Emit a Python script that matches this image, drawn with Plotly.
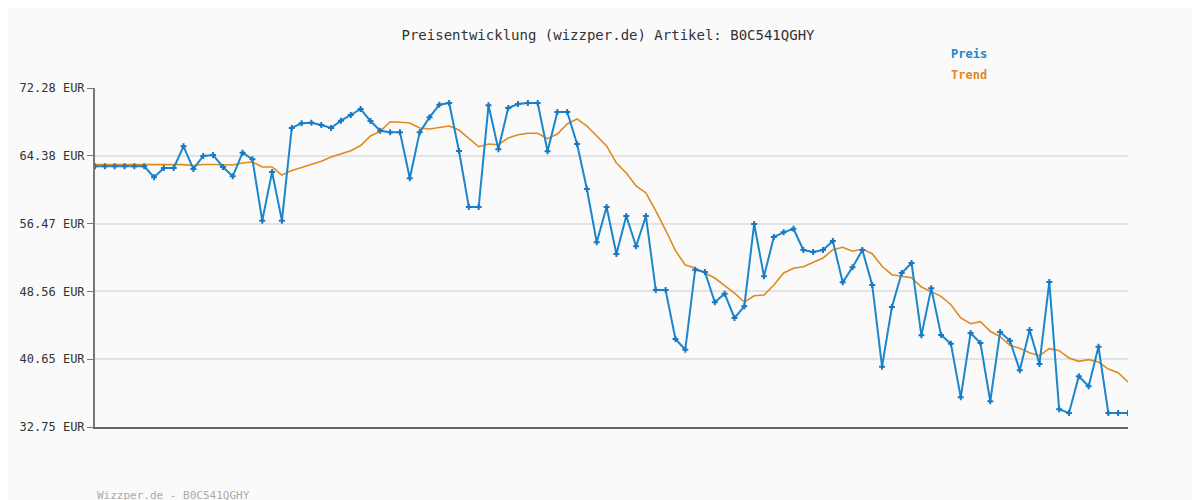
import plotly.graph_objects as go

preis = [63.15,63.15,63.15,63.15,63.15,63.15,61.87,62.95,62.95,65.48,
62.83,64.35,64.47,63.07,61.98,64.74,63.97,56.81,62.48,56.81,
67.62,68.16,68.23,67.97,67.62,68.47,69.13,69.83,68.43,67.30,
67.11,67.11,61.75,67.11,68.86,70.33,70.53,64.93,58.40,58.40,
70.26,65.13,69.95,70.41,70.53,70.53,64.90,69.48,69.48,65.75,
60.50,54.29,58.40,52.92,57.35,53.82,57.35,48.72,48.72,43.01,
41.76,51.09,50.82,47.29,48.29,45.46,46.82,56.42,50.32,54.91,
55.45,55.87,53.39,53.16,53.39,54.44,49.62,51.37,53.39,49.31,
39.78,46.74,50.71,51.87,43.44,48.92,43.48,42.46,36.21,43.71,
42.54,35.75,43.83,42.81,39.36,44.06,40.10,49.66,34.81,34.38,
38.66,37.50,42.11,34.38,34.38,34.38]

trend = [63.34,63.34,63.34,63.34,63.34,63.34,63.34,63.34,63.34,63.34,
63.24,63.36,63.36,63.36,63.30,63.53,63.65,63.07,63.07,62.13,
62.66,63.01,63.34,63.73,64.23,64.64,64.97,65.57,66.68,67.23,
68.35,68.28,68.20,67.62,67.50,67.67,67.85,67.38,66.45,65.43,
65.75,65.67,66.45,66.83,67.00,67.00,66.37,66.92,68.08,68.67,
67.85,66.72,65.52,63.53,62.37,60.85,60.04,57.94,55.72,53.31,
51.64,51.29,50.74,50.12,49.23,48.37,47.33,48.06,48.14,49.31,
50.71,51.26,51.44,51.95,52.46,53.42,53.70,53.24,53.51,52.96,
51.49,50.51,50.32,50.16,49.07,48.53,47.99,47.01,45.46,44.79,
45.03,43.91,43.28,42.28,41.93,41.41,41.06,41.88,41.65,40.80,
40.41,40.60,40.33,39.51,39.08,38.00]

ticks = [32.75, 40.65, 48.56, 56.47, 64.38, 72.28]
tick_labels = [f"{t:.2f} EUR" for t in ticks]
x = list(range(len(preis)))

font = "DejaVu Sans Mono"
fig = go.Figure()
fig.add_trace(go.Scatter(x=x, y=trend, mode="lines", name="Trend",
    line=dict(color="#e08a1e", width=1.6)))
fig.add_trace(go.Scatter(x=x, y=preis, mode="lines+markers", name="Preis",
    line=dict(color="#1a86cc", width=2),
    marker=dict(symbol="cross", size=5, color="#1a78c2")))

fig.update_layout(
    width=1200, height=500, showlegend=False,
    paper_bgcolor="#fafafa", plot_bgcolor="#fafafa",
    margin=dict(l=80, r=80, t=80, b=81),
    font=dict(family=font, size=11, color="#333"),
    title=dict(text="Preisentwicklung (wizzper.de) Artikel: B0C541QGHY",
               x=0.5, xanchor="center", y=0.945, yanchor="middle",
               font=dict(family=font, size=14, color="#333")),
    xaxis=dict(range=[0, len(preis)-1], showgrid=False, showticklabels=False,
               zeroline=False, showline=True, linecolor="#666", linewidth=2, ticks=""),
    yaxis=dict(range=[32.75, 72.28], tickvals=ticks, ticktext=tick_labels,
               showgrid=True, gridcolor="#e3e3e3", gridwidth=2, zeroline=False,
               showline=True, linecolor="#777", linewidth=2,
               ticks="outside", ticklen=6, tickcolor="#777",
               tickfont=dict(family=font, size=12, color="#333")),
    annotations=[
        dict(text="<b>Preis</b>", x=940, y=46, xref="paper", yref="paper",
             showarrow=False, xanchor="left", yanchor="middle",
             font=dict(family=font, size=12, color="#1a86cc")),
        dict(text="<b>Trend</b>", x=940, y=67, showarrow=False,
             xanchor="left", yanchor="middle",
             font=dict(family=font, size=12, color="#e08a1e")),
        dict(text="Wizzper.de - B0C541QGHY", x=80, y=487, showarrow=False,
             xanchor="left", yanchor="middle",
             font=dict(family=font, size=11, color="#aaaaaa")),
    ],
)
# convert pixel positions for annotations to paper coords
pw, ph = 1200 - 160, 500 - 161
for a in fig.layout.annotations:
    a.xref = "paper"; a.yref = "paper"
    a.x = (a.x - 80) / pw
    a.y = (500 - 81 - a.y) / ph
fig.write_html("out.html")
